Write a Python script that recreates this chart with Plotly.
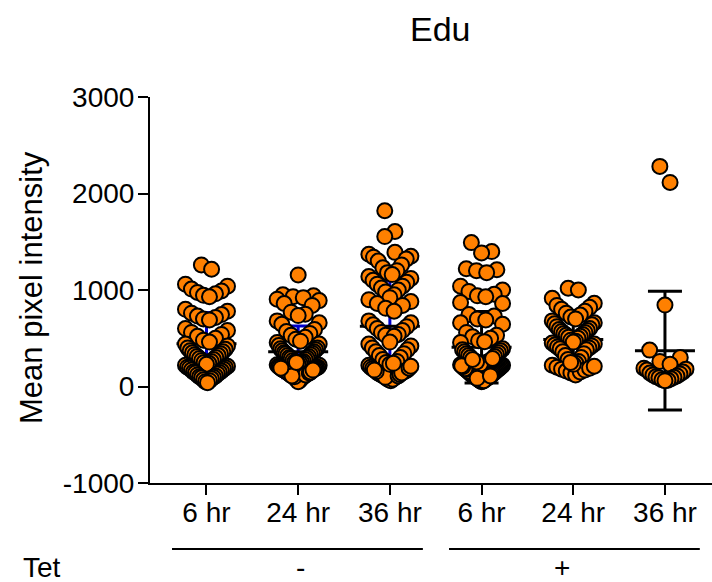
import numpy as np
import plotly.graph_objects as go

# ---- data -------------------------------------------------------------
categories = ["6 hr", "24 hr", "36 hr", "6 hr", "24 hr", "36 hr"]
tet_labels = ["-", "+"]
title_text = "Edu"
y_title = "Mean pixel intensity"
y_ticks = [-1000, 0, 1000, 2000, 3000]
y_ticktext = ["-1000", "0", "1000", "2000", "3000"]

edu_6h_minus = [
    1260, 1215,
    1060, 1040, 1010, 990, 975, 960, 945, 930,
    800, 780, 760, 745, 730, 715, 700, 690,
    600, 580, 560, 540, 520, 500, 480, 460, 440, 420, 400, 385,
    370, 360, 350, 340, 330, 320, 310, 300, 290, 280,
    270, 260, 250, 240, 230, 220, 210, 200, 195, 190,
    180, 170, 160, 150, 145, 140, 130, 120, 110, 100,
    95, 90, 80, 70, 60, 50, 40,
]
edu_24h_minus = [
    1156,
    950, 940, 930, 920, 905, 890,
    860, 840,
    770, 750, 735,
    680, 660, 645,
    590, 570, 550, 530, 510, 490, 470, 455, 440, 425,
    400, 390, 380, 370, 360, 350, 345, 340, 330, 320,
    310, 300, 295, 290, 280, 270, 260, 255, 250, 240,
    230, 225, 220, 210, 200, 195, 190, 180, 170, 165,
    160, 150, 140, 135, 130, 120, 110, 105, 100, 90,
    80, 75, 70, 60, 50,
    100, 120, 140, 150, 160, 170, 180, 200, 130, 110, 190, 250,
]
edu_36h_minus = [
    1821, 1606, 1554,
    1390, 1370, 1350, 1340, 1320, 1300,
    1260, 1230, 1200, 1180, 1160, 1140,
    1120, 1100, 1080, 1060, 1040, 1020, 1000, 980,
    950, 920, 900, 880, 860, 840, 810, 780,
    680, 660, 640, 620, 600, 580, 560, 540, 530, 520,
    460, 440, 420, 400, 380, 360, 340, 320, 300, 280, 260, 250,
    220, 200, 185, 170, 160, 150, 140, 130, 120, 110, 100, 90, 80, 70,
    60, 75, 95, 110, 125, 140, 155, 170, 190, 210, 230, 240,
]
edu_6h_plus = [
    1491, 1398, 1384,
    1220, 1210, 1200, 1180,
    1040, 1000, 985, 955, 940, 930,
    870, 860,
    745, 730, 700, 690, 660, 645,
    560, 530, 515, 500, 475, 465, 455,
    390, 380, 370, 360, 350, 340, 330, 320, 310, 300,
    270, 265, 260, 250, 245, 240, 230, 225, 220, 210,
    200, 195, 190, 180, 170, 165, 160, 150, 140, 130,
    120, 115, 110, 100, 90, 80, 75, 70, 60, 50,
    55, 65, 85, 95, 105, 125, 135, 145, 155, 175,
    185, 205, 215, 235, 255, 280, 290, 60, 85, 110,
]
edu_24h_plus = [
    1018, 1000, 914, 862,
    840, 820, 800, 780, 760, 740, 720, 700,
    680, 660, 650, 640, 620, 600, 590, 580, 570, 560, 550, 540, 530, 520, 510, 500,
    480, 470, 460, 450, 440, 430, 420, 410, 400, 390, 380,
    360, 340, 320, 300, 280, 260, 240, 220, 200, 180, 160, 140, 120,
    150, 170, 190, 210, 230, 250,
]
edu_36h_plus = [
    2281, 2115, 844, 377,
    300, 260, 230, 190, 180, 170, 150, 140, 130, 120,
    110, 100, 95, 90, 80, 70, 65, 60,
]

groups = [edu_6h_minus, edu_24h_minus, edu_36h_minus,
          edu_6h_plus, edu_24h_plus, edu_36h_plus]

# ---- geometry ---------------------------------------------------------
W, H = 712, 582
M_L, M_R, M_T, M_B = 150, 0, 97, 99
plot_w = W - M_L - M_R
plot_h = H - M_T - M_B
x_range = [-0.616, 5.513]
y_range = [-1000, 3000]
px_x = plot_w / (x_range[1] - x_range[0])
px_y = plot_h / (y_range[1] - y_range[0])

ORANGE = "#FF8000"
BLUE = "#0000CC"
FONT = "Liberation Sans, Arial, Helvetica, sans-serif"
DIAM = 17.0  # outer symbol diameter in px


def swarm_offsets(values, diam=DIAM, half_width=21.0, row_factor=1.3):
    """Row-based column scatter: points falling in the same row are spread
    sideways, lowest in the middle and higher ones further out (V rows)."""
    vals = np.asarray(values, dtype=float)
    row = row_factor * diam / px_y
    bins = np.floor(vals / row).astype(int)
    off = np.zeros(len(vals))
    for b in np.unique(bins):
        idx = np.where(bins == b)[0]
        idx = idx[np.argsort(vals[idx])]
        n = len(idx)
        if n == 1:
            continue
        step = min(0.6 * diam, 2 * half_width / (n - 1))
        slots = []
        if n % 2:
            slots.append(0.0)
            k = 1.0
        else:
            k = 0.5
        while len(slots) < n:
            slots.extend([k, -k])
            k += 1
        for j, i in enumerate(idx):
            off[i] = slots[j] * step
    return off / px_x


def px_to_paper_y(py):
    return (H - M_B - py) / plot_h


def px_to_paper_x(px):
    return (px - M_L) / plot_w


fig = go.Figure()

# mean and SD bars (drawn under the points)
mean_hw = 30 / px_x
cap_hw = 17 / px_x
for color, members in ((BLUE, [0, 1, 2]), ("black", [3, 4, 5])):
    xs, ys = [], []
    for i in members:
        v = np.asarray(groups[i], dtype=float)
        m, sd = v.mean(), v.std(ddof=1)
        xs += [i, i, None, i - cap_hw, i + cap_hw, None, i - cap_hw, i + cap_hw, None]
        ys += [m - sd, m + sd, None, m + sd, m + sd, None, m - sd, m - sd, None]
    fig.add_trace(go.Scatter(x=xs, y=ys, mode="lines",
                             line=dict(color=color, width=3),
                             hoverinfo="skip", showlegend=False))
xs, ys = [], []
for i, g in enumerate(groups):
    m = float(np.mean(g))
    xs += [i - mean_hw, i + mean_hw, None]
    ys += [m, m, None]
fig.add_trace(go.Scatter(x=xs, y=ys, mode="lines",
                         line=dict(color="black", width=3),
                         hoverinfo="skip", showlegend=False))

# individual measurements
for i, g in enumerate(groups):
    xo = i + swarm_offsets(g)
    fig.add_trace(go.Scatter(
        x=xo, y=g, mode="markers",
        marker=dict(size=15, color=ORANGE, line=dict(color="black", width=2)),
        showlegend=False, hoverinfo="y"))

# Tet grouping underneath the time labels
y_line = px_to_paper_y(549)
shapes = [dict(type="line", xref="x", yref="paper", x0=lo, x1=hi,
               y0=y_line, y1=y_line, line=dict(color="black", width=2))
          for lo, hi in ((-0.376, 2.36), (2.645, 5.38))]

y_lab = px_to_paper_y(567)
common = dict(showarrow=False, xanchor="center", yanchor="middle")
annotations = [
    dict(text=title_text, x=px_to_paper_x(440), y=px_to_paper_y(29),
         xref="paper", yref="paper",
         font=dict(size=34, color="black", family=FONT), **common),
    dict(text=y_title, x=px_to_paper_x(31), y=px_to_paper_y(288),
         xref="paper", yref="paper", textangle=-90,
         font=dict(size=31, color="black", family=FONT), **common),
    dict(text="Tet", x=px_to_paper_x(42), y=y_lab,
         xref="paper", yref="paper",
         font=dict(size=28, color="black", family=FONT), **common),
    dict(text=tet_labels[0], x=1.02, y=y_lab, xref="x", yref="paper",
         font=dict(size=28, color="black", family=FONT), **common),
    dict(text=tet_labels[1], x=3.88, y=y_lab, xref="x", yref="paper",
         font=dict(size=28, color="black", family=FONT), **common),
]

fig.update_layout(
    width=W, height=H,
    margin=dict(l=M_L, r=M_R, t=M_T, b=M_B, pad=0),
    plot_bgcolor="white", paper_bgcolor="white",
    font=dict(family=FONT, size=28, color="black"),
    shapes=shapes, annotations=annotations,
    xaxis=dict(range=x_range, tickvals=list(range(len(categories))),
               ticktext=categories, ticks="outside", ticklen=10, tickwidth=2,
               tickcolor="black", showline=True, linewidth=2, linecolor="black",
               showgrid=False, zeroline=False, ticklabelstandoff=-7,
               tickfont=dict(size=28, family=FONT, color="black")),
    yaxis=dict(range=y_range, tickvals=y_ticks, ticktext=y_ticktext,
               ticks="outside", ticklen=10, ticklabelstandoff=-2,
               tickwidth=2, tickcolor="black", showline=True, linewidth=2,
               linecolor="black", showgrid=False, zeroline=False,
               tickfont=dict(size=28, family=FONT, color="black")),
)

fig.write_html("out.html")
